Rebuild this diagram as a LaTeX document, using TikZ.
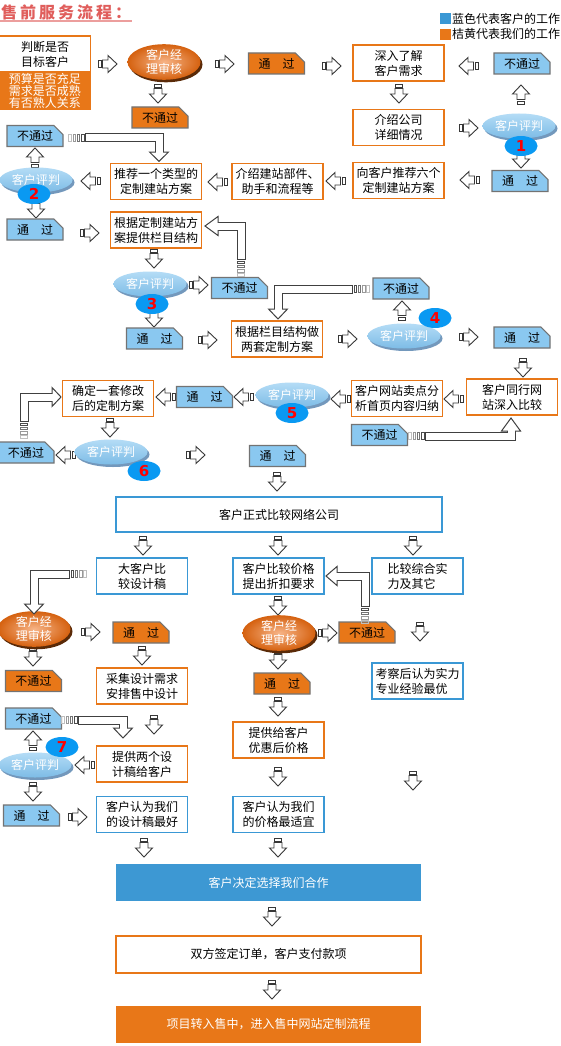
\documentclass[tikz,border=0pt]{standalone}
\usepackage{fontspec}
\setmainfont{Noto Sans CJK SC}
\newfontfamily\numfont{DejaVu Sans}
\usetikzlibrary{shapes.geometric,shapes.misc,shadows,calc}
\definecolor{cOr}{HTML}{E87718}
\definecolor{cOrL}{HTML}{F7B487}
\definecolor{cOrD}{HTML}{D5610F}
\definecolor{cOrS}{HTML}{5A2A08}
\definecolor{cBl}{HTML}{3A98D5}
\definecolor{cTagB}{HTML}{8AC8F0}
\definecolor{cEl1}{HTML}{B4DCF6}
\definecolor{cEl2}{HTML}{7DBCE6}
\definecolor{cElS}{HTML}{7398BC}
\definecolor{cBub}{HTML}{0A99F2}
\definecolor{cTitle}{HTML}{E05E5C}
\definecolor{cDec}{HTML}{3D98D3}
\tikzset{
  txt/.style={font=\fontsize{12}{15}\selectfont, align=center, inner sep=0pt},
  ob/.style={txt, draw=cOr, line width=1.2pt, fill=white, minimum width=91pt, minimum height=36pt},
  bb/.style={ob, draw=cBl},
  tagb/.style={txt, chamfered rectangle, chamfered rectangle corners=north east,
    chamfered rectangle xsep=6pt, draw=black!55, line width=1.1pt, fill=cTagB,
    minimum width=56pt, minimum height=21pt},
  tago/.style={tagb, fill=cOr},
  ebl/.style={txt, ellipse, minimum width=73pt, minimum height=25pt, text=white,
    top color=cEl1, bottom color=cEl2,
    drop shadow={shadow xshift=2pt, shadow yshift=-2.5pt, fill=cElS, opacity=1}},
  eor/.style={txt, ellipse, minimum width=73pt, minimum height=30pt, text=white,
    inner color=cOrL, outer color=cOrD, font=\fontsize{12}{14}\selectfont,
    drop shadow={shadow xshift=2pt, shadow yshift=-2.5pt, fill=cOrS, opacity=1}},
  bub/.style={ellipse, fill=cBub, minimum width=33pt, minimum height=20pt, inner sep=0pt,
    text=red, font=\numfont\bfseries\fontsize{15}{15}\selectfont},
  arrln/.style={draw=black!78, fill=white, line width=0.9pt, line join=miter},
  barr/.pic={
    \draw[arrln] (-10,-3.5) rectangle (-7,3.5);
    \draw[arrln] (-5.5,-4) -- (0,-4) -- (0,-8.5) -- (9,0) -- (0,8.5) -- (0,4) -- (-5.5,4) -- cycle;
  },
  stub/.pic={
    \foreach \i/\c in {0/70,1/55,2/40,3/25}{
      \draw[draw=black!\c, line width=0.8pt] ({-4.2*\i-3.6},-3.5) rectangle ({-4.2*\i-1},3.5);
    }
  },
  pipeo/.style={draw=black!75, line width=9pt, line join=miter},
  pipei/.style={draw=white, line width=7pt, line join=miter},
  headst/.style={draw=black!75, fill=white, line width=1pt, line join=miter},
}
\newcommand\mypipe[5]{%
  \draw[pipeo] (#1) #2 (#3);
  \draw[headst] ($(#3)!9.5pt!90:(#4)$) -- (#4) -- ($(#3)!9.5pt!-90:(#4)$) -- cycle;
  \draw[pipei, shorten <=1pt, shorten >=-1.5pt] (#1) #2 (#3);
  \pic[rotate=#5] at (#1) {stub};
}
\begin{document}
\begin{tikzpicture}[x=1pt,y=-1pt]
\fill[white] (0,0) rectangle (560,1046);
\useasboundingbox (0,0) rectangle (560,1046);

% title and legend
\node[anchor=west, inner sep=0pt, text=cTitle, font=\bfseries\fontsize{16}{16}\selectfont] (title) at (1,12.5)
  {售\hspace{3pt}前\hspace{3pt}服\hspace{3pt}务\hspace{3pt}流\hspace{3pt}程\hspace{3pt}：};
\draw[draw=cTitle!60, line width=2pt] (0,21.5) -- (132,21.5);
\fill[cBl] (440,13) rectangle (451,24);
\fill[cOr] (440,29) rectangle (451,40);
\node[txt, anchor=west] (leg1) at (452,18.5) {蓝色代表客户的工作};
\node[txt, anchor=west] (leg2) at (452,34) {桔黄代表我们的工作};

% block arrows
\pic at (108,64) {barr};
\pic[rotate=-90] at (158,94) {barr};
\pic at (225,64) {barr};
\pic at (332,66) {barr};
\pic[rotate=-90] at (399,94) {barr};
\pic[rotate=180] at (468,66) {barr};
\pic[rotate=90] at (521,94) {barr};
\pic at (469,128) {barr};
\pic[rotate=-90] at (521,159) {barr};
\pic[rotate=180] at (469,180) {barr};
\pic[rotate=180] at (335,181) {barr};
\pic[rotate=180] at (217,182) {barr};
\pic[rotate=180] at (90,181) {barr};
\pic[rotate=90] at (35,157) {barr};
\pic[rotate=-90] at (36,209) {barr};
\pic at (90,233) {barr};
\pic[rotate=-90] at (154,259) {barr};
\pic at (199,285) {barr};
\pic[rotate=-90] at (154,318) {barr};
\pic at (208,340) {barr};
\pic at (348,339) {barr};
\pic[rotate=90] at (402,310) {barr};
\pic at (469,337) {barr};
\pic[rotate=-90] at (523,368) {barr};
\pic[rotate=180] at (453,399) {barr};
\pic[rotate=180] at (340,399) {barr};
\pic[rotate=180] at (243,397) {barr};
\pic[rotate=180] at (165,397) {barr};
\pic[rotate=-90] at (110,428) {barr};
\pic[rotate=180] at (65,455) {barr};
\pic at (196,455) {barr};
\pic[rotate=-90] at (277,482) {barr};
\pic[rotate=-90] at (143,546) {barr};
\pic[rotate=-90] at (278,546) {barr};
\pic[rotate=-90] at (413,546) {barr};
\pic[rotate=-90] at (33,657) {barr};
\pic at (91,632) {barr};
\pic[rotate=-90] at (142,656) {barr};
\pic[rotate=-90] at (278,606) {barr};
\pic at (328,633) {barr};
\pic[rotate=-90] at (278,660) {barr};
\pic[rotate=-90] at (420,632) {barr};
\pic[rotate=-90] at (154,725) {barr};
\pic[rotate=180] at (84,765) {barr};
\pic[rotate=90] at (33,740) {barr};
\pic[rotate=-90] at (33,792) {barr};
\pic at (78,817) {barr};
\pic[rotate=-90] at (144,848) {barr};
\pic[rotate=-90] at (278,707) {barr};
\pic[rotate=-90] at (278,777) {barr};
\pic[rotate=-90] at (278,848) {barr};
\pic[rotate=-90] at (413,781) {barr};
\pic[rotate=-90] at (272,917) {barr};
\pic[rotate=-90] at (272,990) {barr};

% row 1
\node[ob] (judge) at (45,54) {判断是否\\目标客户};
\node[txt, fill=cOr, draw=cOr, line width=1.2pt, minimum width=91pt, minimum height=37pt,
  text=white, font=\fontsize{12}{12}\selectfont] (judgeb) at (45,90.5) {预算是否充足\\需求是否成熟\\有否熟人关系};
\node[eor] (mgr1) at (164,62) {客户经\\理审核};
\node[tago] (fail1) at (160,117.5) {不通过};
\node[tago] (pass1) at (276.5,63.5) {通　过};
\node[ob] (need) at (398.5,63) {深入了解\\客户需求};
\node[ob] (intro) at (398.5,127.5) {介绍公司\\详细情况};
\node[tagb] (failT) at (522,63.5) {不通过};
\node[ebl] (eval1) at (519,126) {客户评判};
\node[bub] (bub1) at (521,146) {1};
\node[tagb] (passT) at (520,181) {通　过};
\node[ob] (rec6) at (398.5,180.5) {向客户推荐六个\\定制建站方案};
\node[ob] (parts) at (277.5,181.5) {介绍建站部件、\\助手和流程等};
\node[ob] (one) at (156,181.5) {推荐一个类型的\\定制建站方案};
\node[ebl] (eval2) at (36,180) {客户评判};
\node[bub] (bub2) at (34,194) {2};
\node[tagb] (fail2) at (35,136) {不通过};
\node[tagb] (pass2) at (35,229.5) {通　过};
\node[ob] (struct) at (156,230) {根据定制建站方\\案提供栏目结构};

% row 3/4
\node[ebl] (eval3) at (150,284) {客户评判};
\node[bub] (bub3) at (152,304) {3};
\node[tagb] (fail3) at (239.5,288) {不通过};
\node[tagb] (pass3) at (154.5,338.5) {通　过};
\node[ob] (plan2) at (277,339) {根据栏目结构做\\两套定制方案};
\node[ebl] (eval4) at (404,336) {客户评判};
\node[bub] (bub4) at (435,318) {4};
\node[tagb] (fail4) at (401,288.5) {不通过};
\node[tagb] (pass4) at (522,337.5) {通　过};

% row 5/6
\node[ob] (peer) at (512,397) {客户同行网\\站深入比较};
\node[ob] (sell) at (397,398.5) {客户网站卖点分\\析首页内容归纳};
\node[ebl] (eval5) at (292,395) {客户评判};
\node[bub] (bub5) at (292,413) {5};
\node[tagb] (pass5) at (204.5,397) {通　过};
\node[ob] (fix) at (108,398.5) {确定一套修改\\后的定制方案};
\node[tagb] (fail5) at (379.5,435) {不通过};
\node[tagb] (fail6) at (26,452.5) {不通过};
\node[ebl] (eval6) at (111,452) {客户评判};
\node[bub] (bub6) at (144,471) {6};
\node[tagb] (pass6) at (277.5,456) {通　过};

% compare
\node[bb, minimum width=326pt, minimum height=35pt] (compare) at (279,514.5) {客户正式比较网络公司};
\node[bb] (bigc) at (142,576) {大客户比\\较设计稿};
\node[bb] (price) at (278.5,576) {客户比较价格\\提出折扣要求};
\node[bb, align=left] (overall) at (417.5,576) {比较综合实\\力及其它};
\node[eor] (mgrL) at (34,629) {客户经\\理审核};
\node[tago] (failL) at (33.5,681) {不通过};
\node[tago] (passL) at (141,632.5) {通　过};
\node[ob] (collect) at (142,686) {采集设计需求\\安排售中设计};
\node[eor] (mgrM) at (279,633) {客户经\\理审核};
\node[tago] (failM) at (367,632.5) {不通过};
\node[tago] (passM) at (282,683.5) {通　过};
\node[bb, align=left] (exam) at (417.5,681) {考察后认为实力\\专业经验最优};
\node[tagb] (failL2) at (33.5,718.5) {不通过};
\node[ob] (twoD) at (142,764) {提供两个设\\计稿给客户};
\node[ebl] (eval7) at (35,765) {客户评判};
\node[bub] (bub7) at (62,747) {7};
\node[tagb] (pass7) at (31.5,815.5) {通　过};
\node[bb] (best) at (142,814.5) {客户认为我们\\的设计稿最好};
\node[ob] (offer) at (278.5,740) {提供给客户\\优惠后价格};
\node[bb] (cheap) at (278.5,814.5) {客户认为我们\\的价格最适宜};

% bottom
\node[txt, fill=cDec, minimum width=305pt, minimum height=37pt, text=white] (decide) at (268.5,882.5) {客户决定选择我们合作};
\node[ob, minimum width=305pt, minimum height=37pt] (sign) at (268.5,954.5) {双方签定订单，客户支付款项};
\node[txt, fill=cOr, minimum width=305pt, minimum height=37pt, text=white] (proj) at (268.5,1024.5) {项目转入售中，进入售中网站定制流程};

% pipes (failed paths)
\coordinate (p1s) at (85,137.5);  \coordinate (p1b) at (159,152); \coordinate (p1t) at ($(one.north)+(3,-1.5)$);
\mypipe{p1s}{-|}{p1b}{p1t}{0}
\coordinate (p2s) at (241,260);  \coordinate (p2b) at (218,226); \coordinate (p2t) at (205,226);
\mypipe{p2s}{|-}{p2b}{p2t}{90}
\coordinate (p3s) at (353,289);  \coordinate (p3b) at (278,309); \coordinate (p3t) at (278,319);
\mypipe{p3s}{-|}{p3b}{p3t}{180}
\coordinate (p4s) at (425,436);  \coordinate (p4b) at (511,431); \coordinate (p4t) at (511,418);
\mypipe{p4s}{-|}{p4b}{p4t}{0}
\coordinate (p5s) at (24,422);   \coordinate (p5b) at (52,397);  \coordinate (p5t) at (61,397);
\mypipe{p5s}{|-}{p5b}{p5t}{90}
\coordinate (p6s) at (70,574);   \coordinate (p6b) at (34,604);  \coordinate (p6t) at (34,614);
\mypipe{p6s}{-|}{p6b}{p6t}{180}
\coordinate (p7s) at (365,607);  \coordinate (p7b) at (337,576); \coordinate (p7t) at (326,576);
\mypipe{p7s}{|-}{p7b}{p7t}{90}
\coordinate (p8s) at (78,720);   \coordinate (p8b) at (123,728); \coordinate (p8t) at (123,738);
\mypipe{p8s}{-|}{p8b}{p8t}{0}
\end{tikzpicture}
\end{document}
